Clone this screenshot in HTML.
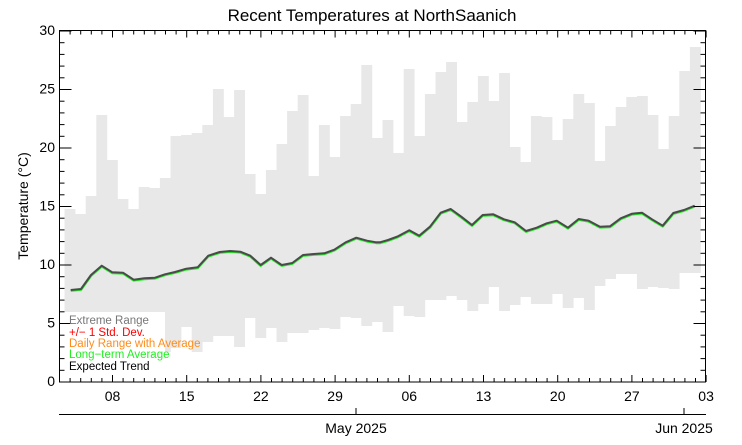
<!DOCTYPE html>
<html><head><meta charset="utf-8"><style>
body{margin:0;background:#fff;}
svg{display:block;font-family:"Liberation Sans",Arial,sans-serif;}
</style></head><body>
<svg id="s" width="742" height="445" xmlns="http://www.w3.org/2000/svg">
<text x="372" y="21" font-size="17" text-anchor="middle">Recent Temperatures at NorthSaanich</text>
<g id="bars" fill="#e8e8e8"></g>
<rect x="62" y="312" width="103" height="67" fill="#fff"/>
<polyline id="g" fill="none" stroke="#22ee22" stroke-width="2.6" stroke-linejoin="round"/>
<polyline id="k" fill="none" stroke="#4a4a4a" stroke-width="2" stroke-linejoin="round"/>
<g id="ax" stroke="#000" stroke-width="1"></g>
<g id="lab" font-size="14"></g>
<text font-size="11.5" x="69" y="324" fill="#777">Extreme Range</text>
<text font-size="11.5" x="69" y="336" fill="#f00">+/− 1 Std. Dev.</text>
<text font-size="11.5" x="69" y="347" fill="#ff8c1a">Daily Range with Average</text>
<text font-size="11.5" x="69" y="358" fill="#22ee22">Long−term Average</text>
<text font-size="11.5" x="69" y="370" fill="#000">Expected Trend</text>
<text font-size="14" x="28" y="206" text-anchor="middle" transform="rotate(-90 28 206)">Temperature (°C)</text>
<text font-size="14" x="356" y="433" text-anchor="middle">May 2025</text>
<text font-size="14" x="684" y="433" text-anchor="middle">Jun 2025</text>
</svg>
<script>
var NS="http://www.w3.org/2000/svg";
function el(p,t,a,txt){var e=document.createElementNS(NS,t);for(var k in a)e.setAttribute(k,a[k]);if(txt)e.textContent=txt;document.getElementById(p).appendChild(e);return e;}
var tops=[209,214,196,115,160,199,209,187,188,178,136,135,133,125,89,117,90,174,194,170,144,111,95,176,125,157,116,104,65,138,
120,153,69,136,94,72,62,122,102,76,101,73,147,162,116,117,140,119,94,103,161,126,107,97,96,115,149,116,71,47];
var bots=[372,379,372,368,366,362,360,358,356,352,348,327,352,342,336,336,347,318,338,328,342,333,333,330,328,329,317,318,326,322,
332,306,316,317,300,300,296,300,311,304,287,311,305,297,304,304,294,308,298,310,286,279,274,274,289,287,288,289,273,273];
for(var i=0;i<60;i++){var x=64.5+10.6*i;el("bars","rect",{x:x.toFixed(2),y:tops[i],width:10.9,height:bots[i]-tops[i]});}
var z1=[[47,795],[78,792],[108,750],[140,722],[172,742],[204,743],[236,764],[268,760],[300,758],[330,748],[360,741],[394,731],[428,727],[460,692],[494,681],[526,678],[556,680],[586,692],[617,720],[648,698],[680,720],[712,714],[744,690],[776,687],[808,685],[838,674],[872,652],[904,638],[936,647],[964,652]];
var z2=[[0,652],[24,645],[54,634],[88,616],[118,632],[150,605],[182,563],[212,552],[244,575],[276,600],[308,570],[340,568],[372,583],[404,592],[438,618],[470,608],[500,595],[530,587],[564,608],[596,582],[626,587],[660,605],[690,604],[722,580],[756,566],[786,563],[816,583],[848,602],[880,564],[912,555],[944,542]];
var pts=z1.map(function(p){return (p[0]/3+55).toFixed(1)+","+(p[1]/3+25).toFixed(1);}).concat(z2.map(function(p){return (p[0]/3+380).toFixed(1)+","+(p[1]/3+25).toFixed(1);}));
document.getElementById("k").setAttribute("points",pts.join(" "));
document.getElementById("g").setAttribute("points",pts.map(function(s){var a=s.split(",");return a[0]+","+(+a[1]+0.6);}).join(" "));
el("ax","rect",{x:59.5,y:30.5,width:646,height:351.5,fill:"none"});
var Y0=382,S=11.7;
for(var t=0;t<=30;t++){var y=(Y0-S*t).toFixed(1);var L=t%5==0?12:5;
el("ax","line",{x1:59.5,x2:59.5+L,y1:y,y2:y});el("ax","line",{x1:705.5,x2:705.5-L,y1:y,y2:y});
if(t%5==0)el("lab","text",{x:55,y:(Y0-S*t+4).toFixed(1),"text-anchor":"end"},""+t);}
var names=["08","15","22","29","06","13","20","27","03"];
for(var d=0;d<=61;d++){var x=(59.5+10.6*d).toFixed(1);var maj=(d-5)%7==0&&d>=5;var L=maj?7:4;
el("ax","line",{x1:x,x2:x,y1:30.5,y2:30.5+L});el("ax","line",{x1:x,x2:x,y1:382,y2:382-L});
if(maj)el("lab","text",{x:x,y:401,"text-anchor":"middle"},names[(d-5)/7]);}
el("ax","line",{x1:59,x2:706,y1:414.5,y2:414.5});
el("ax","line",{x1:356,x2:356,y1:408,y2:414});el("ax","line",{x1:684,x2:684,y1:408,y2:414});
</script>
</body></html>
